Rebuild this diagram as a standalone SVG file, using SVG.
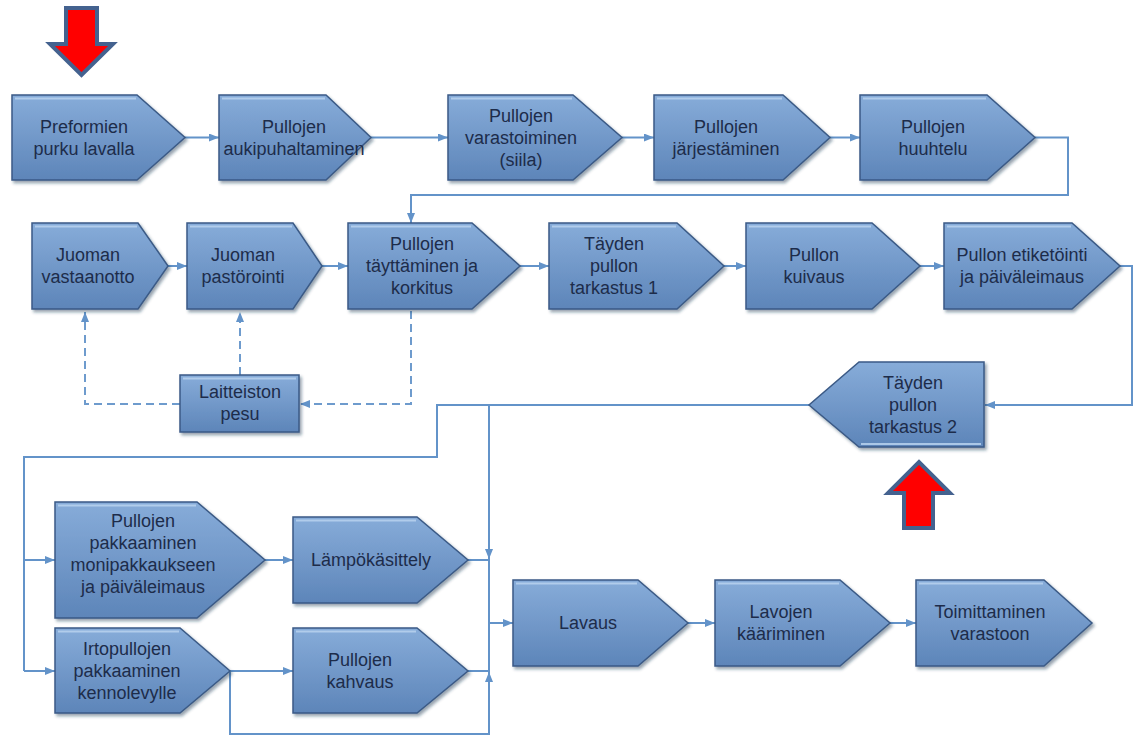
<svg xmlns="http://www.w3.org/2000/svg" width="1136" height="736" viewBox="0 0 1136 736">
<style>
  .node { fill: url(#nodeGrad); stroke: #3b5a86; stroke-width: 1.5; filter: url(#shadow); }
  .hl { fill: none; stroke: #b9d2ee; stroke-width: 2; opacity: 0.85; }
  .lbl { font-family: "Liberation Sans", Arial, sans-serif; font-size: 18px; fill: #1d2c4a; text-anchor: middle; }
  .conn { fill: none; stroke: #6393c9; stroke-width: 2; }
  .dash { fill: none; stroke: #6e9bcd; stroke-width: 2; stroke-dasharray: 8 5; }
  .big { fill: #ff0000; stroke: #44628f; stroke-width: 4; stroke-linejoin: miter; }
</style>
<defs>
  <linearGradient id="nodeGrad" x1="0" y1="0" x2="0" y2="1">
    <stop offset="0" stop-color="#87acd9"/>
    <stop offset="1" stop-color="#5d85b9"/>
  </linearGradient>
  <filter id="shadow" x="-10%" y="-10%" width="125%" height="130%">
    <feDropShadow dx="2" dy="2.5" stdDeviation="1.5" flood-color="#1f3350" flood-opacity="0.45"/>
  </filter>
  <marker id="arr" markerUnits="userSpaceOnUse" markerWidth="10" markerHeight="8" refX="10" refY="4" orient="auto">
    <path d="M0,0 L10,4 L0,8 z" fill="#6393c9"/>
  </marker>
</defs>
<rect width="1136" height="736" fill="#ffffff"/>

<g id="connectors">
  <path class="conn" marker-end="url(#arr)" d="M185 137.5 H219"/>
  <path class="conn" marker-end="url(#arr)" d="M371 137.5 H448"/>
  <path class="conn" marker-end="url(#arr)" d="M622 137.5 H654"/>
  <path class="conn" marker-end="url(#arr)" d="M830 137.5 H860"/>
  <path class="conn" marker-end="url(#arr)" d="M1035 137.5 H1068 V195 H411 V223"/>
  <path class="conn" marker-end="url(#arr)" d="M168 266 H187"/>
  <path class="conn" marker-end="url(#arr)" d="M322 266 H348"/>
  <path class="conn" marker-end="url(#arr)" d="M520 266 H549"/>
  <path class="conn" marker-end="url(#arr)" d="M724 266 H746"/>
  <path class="conn" marker-end="url(#arr)" d="M920 266 H944"/>
  <path class="conn" marker-end="url(#arr)" d="M1120 266 H1132 V405 H985"/>
  <path class="dash" marker-end="url(#arr)" d="M180 404 H85 V312"/>
  <path class="dash" marker-end="url(#arr)" d="M240 375 V312"/>
  <path class="dash" marker-end="url(#arr)" d="M411 311 V404 H300"/>
  <path class="conn" d="M809 405 H437 V457 H24 V671"/>
  <path class="conn" marker-end="url(#arr)" d="M24 560 H55"/>
  <path class="conn" marker-end="url(#arr)" d="M24 671 H55"/>
  <path class="conn" marker-end="url(#arr)" d="M265 560 H293"/>
  <path class="conn" marker-end="url(#arr)" d="M230 671 H293"/>
  <path class="conn" d="M468 560 H489"/>
  <path class="conn" d="M468 671 H489"/>
  <path class="conn" marker-end="url(#arr)" d="M489 405 V559"/>
  <path class="conn" marker-end="url(#arr)" d="M230 671 V734 H489 V672"/>
  <path class="conn" d="M489 559 V672"/>
  <path class="conn" marker-end="url(#arr)" d="M489 623 H513"/>
  <path class="conn" marker-end="url(#arr)" d="M688 623 H715"/>
  <path class="conn" marker-end="url(#arr)" d="M890 623 H916"/>
</g>

<g id="n1">
  <polygon class="node" points="12,95 137,95 185,137.5 137,180 12,180"/>
  <path class="hl" d="M15 98.5 H136"/>
  <text class="lbl" x="84" y="133">Preformien</text>
  <text class="lbl" x="84" y="155">purku lavalla</text>
</g>
<g id="n2">
  <polygon class="node" points="219,95 326,95 371,137.5 326,180 219,180"/>
  <path class="hl" d="M222 98.5 H325"/>
  <text class="lbl" x="294" y="133">Pullojen</text>
  <text class="lbl" x="294" y="155">aukipuhaltaminen</text>
</g>
<g id="n3">
  <polygon class="node" points="448,95 573,95 622,137.5 573,180 448,180"/>
  <path class="hl" d="M451 98.5 H572"/>
  <text class="lbl" x="521" y="122">Pullojen</text>
  <text class="lbl" x="521" y="144">varastoiminen</text>
  <text class="lbl" x="521" y="166">(siila)</text>
</g>
<g id="n4">
  <polygon class="node" points="654,95 783,95 830,137.5 783,180 654,180"/>
  <path class="hl" d="M657 98.5 H782"/>
  <text class="lbl" x="726" y="133">Pullojen</text>
  <text class="lbl" x="726" y="155">järjestäminen</text>
</g>
<g id="n5">
  <polygon class="node" points="860,95 987,95 1035,137.5 987,180 860,180"/>
  <path class="hl" d="M863 98.5 H986"/>
  <text class="lbl" x="933" y="133">Pullojen</text>
  <text class="lbl" x="933" y="155">huuhtelu</text>
</g>

<g id="n6">
  <polygon class="node" points="32,223 138,223 168,266 138,309 32,309"/>
  <path class="hl" d="M35 226.5 H137"/>
  <text class="lbl" x="88" y="261">Juoman</text>
  <text class="lbl" x="88" y="283">vastaanotto</text>
</g>
<g id="n7">
  <polygon class="node" points="187,223 293,223 322,266 293,309 187,309"/>
  <path class="hl" d="M190 226.5 H292"/>
  <text class="lbl" x="243" y="261">Juoman</text>
  <text class="lbl" x="243" y="283">pastörointi</text>
</g>
<g id="n8">
  <polygon class="node" points="348,223 472,223 520,266 472,309 348,309"/>
  <path class="hl" d="M351 226.5 H471"/>
  <text class="lbl" x="422" y="250">Pullojen</text>
  <text class="lbl" x="422" y="272">täyttäminen ja</text>
  <text class="lbl" x="422" y="294">korkitus</text>
</g>
<g id="n9">
  <polygon class="node" points="549,223 677,223 724,266 677,309 549,309"/>
  <path class="hl" d="M552 226.5 H676"/>
  <text class="lbl" x="614" y="250">Täyden</text>
  <text class="lbl" x="614" y="272">pullon</text>
  <text class="lbl" x="614" y="294">tarkastus 1</text>
</g>
<g id="n10">
  <polygon class="node" points="746,223 872,223 920,266 872,309 746,309"/>
  <path class="hl" d="M749 226.5 H871"/>
  <text class="lbl" x="814" y="261">Pullon</text>
  <text class="lbl" x="814" y="283">kuivaus</text>
</g>
<g id="n11">
  <polygon class="node" points="944,223 1072,223 1120,266 1072,309 944,309"/>
  <path class="hl" d="M947 226.5 H1071"/>
  <text class="lbl" x="1022" y="261">Pullon etiketöinti</text>
  <text class="lbl" x="1022" y="283">ja päiväleimaus</text>
</g>

<g id="n12">
  <rect class="node" x="180" y="375" width="119" height="57"/>
  <path class="hl" d="M183 378.5 H296"/>
  <text class="lbl" x="240" y="398">Laitteiston</text>
  <text class="lbl" x="240" y="420">pesu</text>
</g>

<g id="n13">
  <polygon class="node" points="984,362 859,362 809,405 859,447 984,447"/>
  <path class="hl" d="M861 444 H981"/>
  <text class="lbl" x="913" y="389">Täyden</text>
  <text class="lbl" x="913" y="411">pullon</text>
  <text class="lbl" x="913" y="433">tarkastus 2</text>
</g>

<g id="n14">
  <polygon class="node" points="55,502 197,502 265,560 197,618 55,618"/>
  <path class="hl" d="M58 505.5 H196"/>
  <text class="lbl" x="143" y="527">Pullojen</text>
  <text class="lbl" x="143" y="549">pakkaaminen</text>
  <text class="lbl" x="143" y="571">monipakkaukseen</text>
  <text class="lbl" x="143" y="593">ja päiväleimaus</text>
</g>
<g id="n15">
  <polygon class="node" points="293,517 417,517 468,560 417,603 293,603"/>
  <path class="hl" d="M296 520.5 H416"/>
  <text class="lbl" x="371" y="566">Lämpökäsittely</text>
</g>
<g id="n16">
  <polygon class="node" points="55,628 180,628 230,671 180,713 55,713"/>
  <path class="hl" d="M58 631.5 H179"/>
  <text class="lbl" x="127" y="655">Irtopullojen</text>
  <text class="lbl" x="127" y="677">pakkaaminen</text>
  <text class="lbl" x="127" y="699">kennolevylle</text>
</g>
<g id="n17">
  <polygon class="node" points="293,628 417,628 468,671 417,713 293,713"/>
  <path class="hl" d="M296 631.5 H416"/>
  <text class="lbl" x="360" y="666">Pullojen</text>
  <text class="lbl" x="360" y="688">kahvaus</text>
</g>

<g id="n18">
  <polygon class="node" points="513,580 638,580 688,623 638,666 513,666"/>
  <path class="hl" d="M516 583.5 H637"/>
  <text class="lbl" x="588" y="629">Lavaus</text>
</g>
<g id="n19">
  <polygon class="node" points="715,580 840,580 890,623 840,666 715,666"/>
  <path class="hl" d="M718 583.5 H839"/>
  <text class="lbl" x="781" y="618">Lavojen</text>
  <text class="lbl" x="781" y="640">kääriminen</text>
</g>
<g id="n20">
  <polygon class="node" points="916,580 1044,580 1092,623 1044,666 916,666"/>
  <path class="hl" d="M919 583.5 H1043"/>
  <text class="lbl" x="990" y="618">Toimittaminen</text>
  <text class="lbl" x="990" y="640">varastoon</text>
</g>

<g id="marker-down">
  <polygon class="big" points="66,8 97,8 97,44 113,44 81.5,75 50,44 66,44"/>
</g>
<g id="marker-up">
  <polygon class="big" points="904,528 933,528 933,493 950,493 919,462 888,493 904,493"/>
</g>
</svg>
